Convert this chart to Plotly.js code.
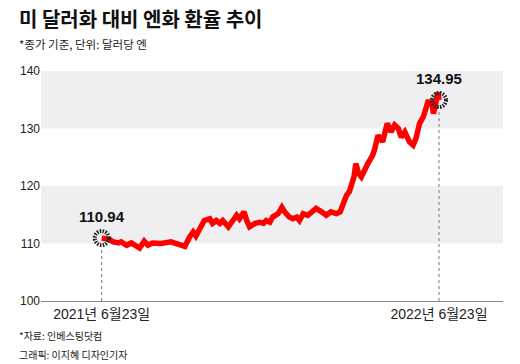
<!DOCTYPE html>
<html>
<head>
<meta charset="utf-8">
<script src="https://cdn.plot.ly/plotly-3.0.1.min.js"></script>
<style>
  html, body { margin: 0; padding: 0; background: #fff; }
  #chart { width: 520px; height: 364px; }
</style>
</head>
<body>
<div id="chart"></div>
<script>
// ---- data ----
const dates = [
  '2021-06-23','2021-07-02','2021-07-05','2021-07-11','2021-07-14','2021-07-20','2021-07-25','2021-07-30',
  '2021-08-03','2021-08-08','2021-08-12','2021-08-17','2021-08-26','2021-09-06','2021-09-13','2021-09-21',
  '2021-09-26','2021-09-30','2021-10-03','2021-10-09','2021-10-12','2021-10-18','2021-10-21','2021-10-25',
  '2021-10-29','2021-11-01','2021-11-07','2021-11-12','2021-11-16','2021-11-19','2021-11-24','2021-11-27',
  '2021-11-30','2021-12-06','2021-12-11','2021-12-15','2021-12-18','2021-12-22','2021-12-25','2021-12-31',
  '2022-01-04','2022-01-07','2022-01-12','2022-01-16','2022-01-20','2022-01-23','2022-01-27','2022-02-01',
  '2022-02-10','2022-02-16','2022-02-21','2022-02-26','2022-03-04','2022-03-08','2022-03-11','2022-03-15',
  '2022-03-18','2022-03-20','2022-03-23','2022-03-25','2022-03-28','2022-03-31','2022-04-04','2022-04-07',
  '2022-04-12','2022-04-14','2022-04-18','2022-04-23','2022-04-28','2022-05-02','2022-05-06','2022-05-10',
  '2022-05-13','2022-05-17','2022-05-22','2022-05-26','2022-05-29','2022-06-02','2022-06-06','2022-06-09',
  '2022-06-11','2022-06-15','2022-06-17','2022-06-19','2022-06-22','2022-06-23'
];
const yenPerDollar = [
  110.94,110.7,110.3,110.1,110.3,109.7,110.1,109.5,
  109.2,110.4,109.7,110.1,110.0,110.3,110.0,109.5,
  111.1,112.0,111.3,113.2,114.0,114.3,113.5,114.0,
  113.5,114.0,112.9,114.0,114.9,114.3,115.5,114.0,
  112.9,113.5,113.7,113.5,114.0,113.7,114.6,115.2,
  116.3,115.5,114.6,114.3,114.6,114.0,115.2,114.9,
  116.1,115.5,114.9,115.5,115.2,115.5,116.9,118.4,
  119.0,120.1,121.6,123.9,122.2,121.6,123.3,123.9,
  125.3,126.2,128.8,127.7,130.9,129.4,130.6,130.0,
  128.5,129.4,127.7,127.1,128.2,130.9,132.0,133.7,
  134.6,134.6,132.6,134.0,136.3,134.95
];
const highlightDates = ['2021-06-23', '2022-06-23'];
const highlightValues = [110.94, 134.95];
const highlightLabels = ['110.94', '134.95'];
const xTickDates = ['2021-06-23', '2022-06-23'];
const xTickLabels = ['2021년 6월23일', '2022년 6월23일'];
const yTicks = [100, 110, 120, 130, 140];
const bandRanges = [[110, 120], [130, 140]];

const titleText = '미 달러화 대비 엔화 환율 추이';
const subtitleText = '*종가 기준, 단위: 달러당 엔';
const sourceText = '*자료: 인베스팅닷컴';
const creditText = '그래픽: 이지혜 디자인기자';

// ---- layout geometry ----
const W = 520, H = 364;
const M = { l: 41, r: 17, t: 71, b: 63 };
const plotW = W - M.l - M.r, plotH = H - M.t - M.b;
const yRange = [100, 140];
const pxPerUnit = plotH / (yRange[1] - yRange[0]);
const px2paperX = px => (px - M.l) / plotW;
const px2paperY = py => (H - M.b - py) / plotH;

const FONT = 'Liberation Sans, Arial, "Noto Sans CJK KR", sans-serif';
const KFONT = '"Noto Sans CJK KR", "Liberation Sans", sans-serif';

const shapes = [];
bandRanges.forEach(r => shapes.push({
  type: 'rect', xref: 'paper', yref: 'y', x0: 0, x1: 1, y0: r[0], y1: r[1],
  fillcolor: '#efeff1', line: { width: 0 }, layer: 'below'
}));
highlightDates.forEach((d, i) => {
  shapes.push({
    type: 'line', xref: 'x', yref: 'y', x0: d, x1: d,
    y0: yRange[0], y1: highlightValues[i] - 9 / pxPerUnit,
    line: { color: '#777', width: 1, dash: 'dot' }, layer: 'above'
  });
  shapes.push({
    type: 'circle', xref: 'x', yref: 'y', xsizemode: 'pixel', ysizemode: 'pixel',
    xanchor: d, yanchor: highlightValues[i], x0: -7, x1: 7, y0: -7, y1: 7,
    line: { color: '#222', width: 4, dash: '1.5px,1.3px' }, layer: 'above'
  });
});

const annotations = highlightDates.map((d, i) => ({
  x: d, y: highlightValues[i], xref: 'x', yref: 'y', text: highlightLabels[i],
  showarrow: false, yshift: 22, xanchor: 'center', yanchor: 'middle',
  font: { family: FONT, size: 15, color: '#111', weight: 'bold' }
}));
annotations.push(
  { text: '<b>' + titleText + '</b>', xref: 'paper', yref: 'paper', x: px2paperX(17), y: px2paperY(18),
    xanchor: 'left', yanchor: 'middle', showarrow: false, font: { family: KFONT, size: 20, color: '#111' } },
  { text: subtitleText, xref: 'paper', yref: 'paper', x: px2paperX(17), y: px2paperY(44),
    xanchor: 'left', yanchor: 'middle', showarrow: false, font: { family: KFONT, size: 11.5, color: '#222' } },
  { text: sourceText, xref: 'paper', yref: 'paper', x: px2paperX(17), y: px2paperY(335),
    xanchor: 'left', yanchor: 'middle', showarrow: false, font: { family: KFONT, size: 10, color: '#222' } },
  { text: creditText, xref: 'paper', yref: 'paper', x: px2paperX(17), y: px2paperY(354),
    xanchor: 'left', yanchor: 'middle', showarrow: false, font: { family: KFONT, size: 10, color: '#222' } }
);

const trace = {
  x: dates, y: yenPerDollar, type: 'scatter', mode: 'lines',
  line: { color: '#ff0000', width: 5.5, shape: 'linear' }, hoverinfo: 'skip'
};

const layout = {
  width: W, height: H, margin: M,
  paper_bgcolor: '#fff', plot_bgcolor: '#fff', showlegend: false,
  xaxis: {
    type: 'date', range: ['2021-04-18 08:00', '2022-08-31 06:00'],
    tickmode: 'array', tickvals: xTickDates, ticktext: xTickLabels,
    showgrid: false, zeroline: false, ticks: '',
    showline: true, linecolor: '#8a8a8a', linewidth: 1,
    tickfont: { family: FONT, size: 14, color: '#222' }, fixedrange: true
  },
  yaxis: {
    range: yRange, tickmode: 'array', tickvals: yTicks,
    showgrid: false, zeroline: false, showline: false, ticks: '',
    tickfont: { family: FONT, size: 12, color: '#222' }, fixedrange: true
  },
  shapes: shapes, annotations: annotations
};

Plotly.newPlot('chart', [trace], layout, { displayModeBar: false, staticPlot: true });
</script>
</body>
</html>
